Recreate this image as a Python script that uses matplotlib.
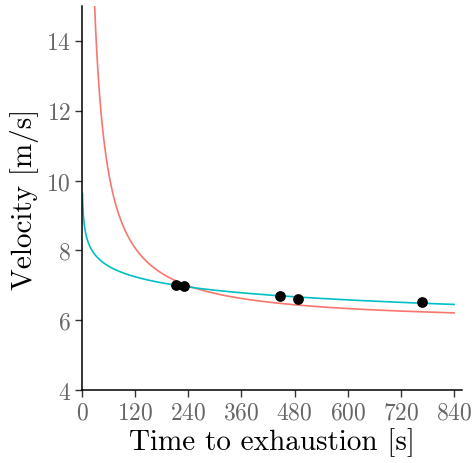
import numpy as np
import matplotlib
matplotlib.use("Agg")
import matplotlib.pyplot as plt

plt.rcParams['font.family'] = 'serif'
plt.rcParams['font.serif'] = ['cmr10']
plt.rcParams['mathtext.fontset'] = 'cm'
plt.rcParams['axes.formatter.use_mathtext'] = True

# observed trials: time to exhaustion [s] and velocity [m/s]
trial_time = [212, 230, 447, 488, 768]
trial_velocity = [7.01, 6.98, 6.69, 6.61, 6.52]

# model parameters
cs = 5.90          # critical speed (hyperbolic model), m/s
d_prime = 260.0    # D', m
pl_a = 9.63        # power law scale
pl_b = -0.0595     # power law exponent

x_ticks = [0, 120, 240, 360, 480, 600, 720, 840]
y_ticks = [4, 6, 8, 10, 12, 14]

t = np.linspace(1, 840, 2000)
v_hyp = cs + d_prime / t
v_pow = pl_a * t ** pl_b

fig = plt.figure(figsize=(4.72, 4.64), dpi=100)
ax = fig.add_axes([0.1737, 0.1573, 0.8051, 0.8277])

ax.plot(t, v_hyp, color='#F8766D', lw=1.2, zorder=2)
ax.plot(t, v_pow, color='#00BFC4', lw=1.2, zorder=2)
ax.scatter(trial_time, trial_velocity, s=60, color='black', zorder=3, linewidths=0)

ax.set_xlim(0, 858)
ax.set_ylim(4, 15)
ax.set_xticks(x_ticks)
ax.set_yticks(y_ticks)

for side in ['top', 'right']:
    ax.spines[side].set_visible(False)
for side in ['left', 'bottom']:
    ax.spines[side].set_linewidth(1.1)
    ax.spines[side].set_color('black')

ax.tick_params(axis='both', length=5, width=1.0, color='#333333',
               labelcolor='#666666', labelsize=17, pad=3)

ax.set_xlabel('Time to exhaustion [s]', fontsize=21, labelpad=3)
ax.set_ylabel('Velocity [m/s]', fontsize=21, labelpad=5)

fig.savefig('out.png', dpi=100)
